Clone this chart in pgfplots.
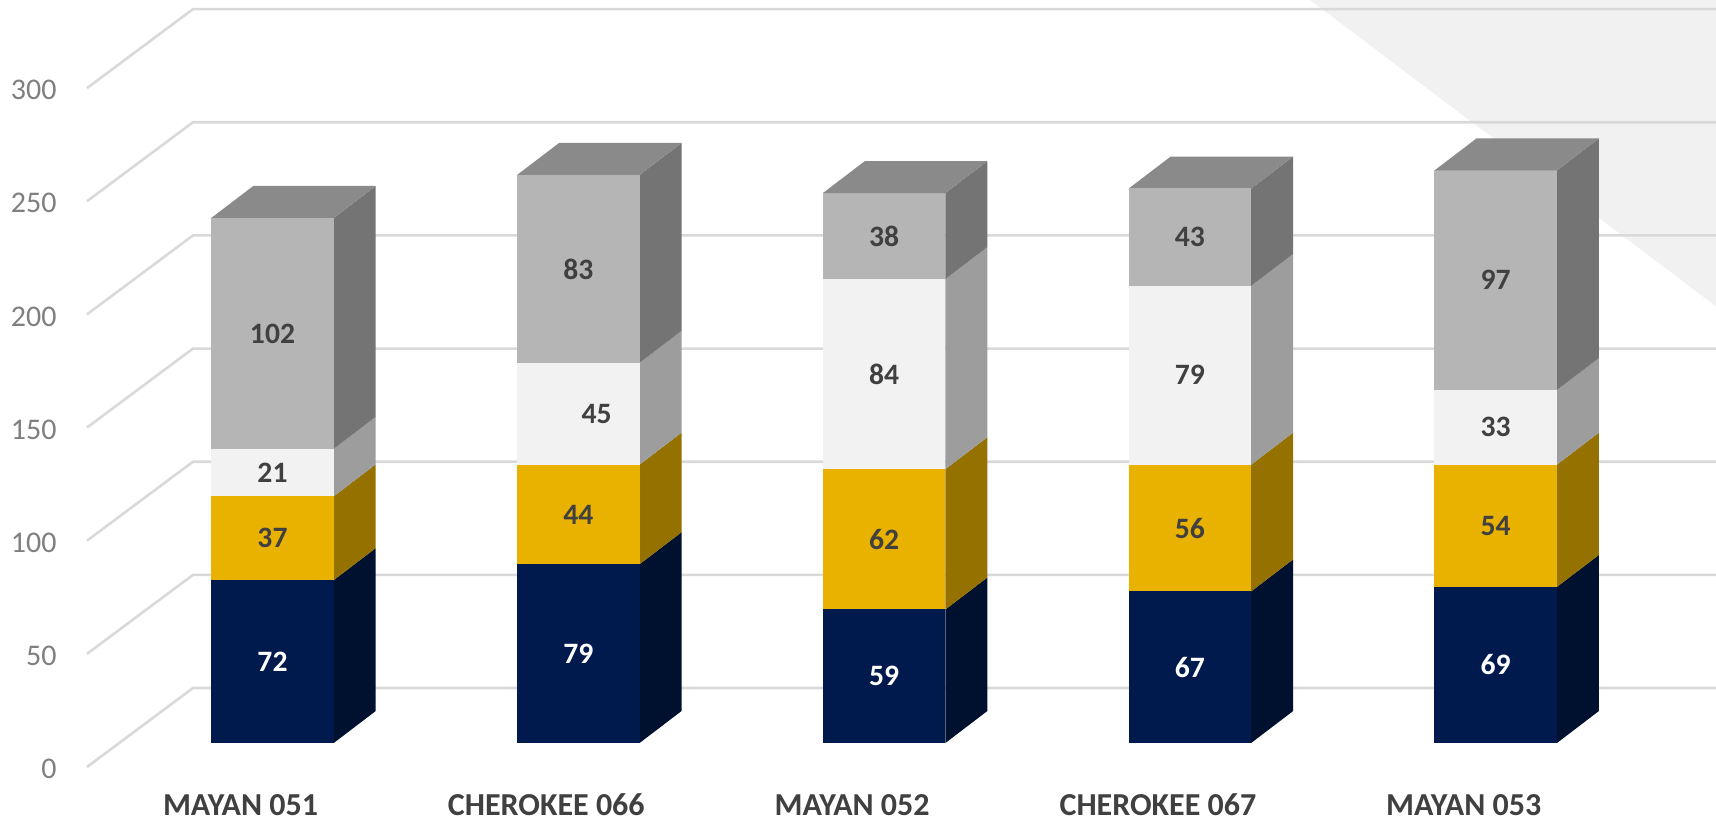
\documentclass[border=0pt]{standalone}
\usepackage{pgfplots}
\usepackage{pgfplotstable}
\pgfplotsset{compat=1.18}
\usepackage{fontspec}
\setmainfont{Carlito}

\definecolor{navyF}{HTML}{001A4E}
\definecolor{navyS}{HTML}{00112F}
\definecolor{goldF}{HTML}{EAB200}
\definecolor{goldS}{HTML}{957100}
\definecolor{whiteF}{HTML}{F2F2F2}
\definecolor{whiteS}{HTML}{9D9D9D}
\definecolor{greyF}{HTML}{B5B5B5}
\definecolor{greyS}{HTML}{747474}
\definecolor{greyT}{HTML}{8A8A8A}
\definecolor{gridc}{HTML}{D9D9D9}
\definecolor{labc}{HTML}{404040}
\definecolor{tickc}{HTML}{7F7F7F}
\definecolor{triC}{HTML}{F1F1F1}

% columns: a = navy, b = gold, c = white, d = grey; cs = x offset of the white label
\pgfplotstableread{
x a b c d cs
0 72 37 21 102 0
1 79 44 45 83 0.06
2 59 62 84 38 0
3 67 56 79 43 0
4 69 54 33 97 0
}\datatable

\tikzset{
  tick lab/.style={anchor=east, inner sep=0pt, xshift=-15pt, yshift=-1pt, text=tickc, font=\fontsize{15}{18}\selectfont},
  dlab/.style={inner sep=0pt, font=\fontsize{14.8}{17}\selectfont\bfseries},
  catlab/.style={inner sep=0pt, text=labc, font=\fontsize{16}{19}\selectfont\bfseries},
}

% bar geometry (axis units)
\def\hw{0.2003}
\def\ddx{0.1373}
\def\ddy{14.14}

\newcommand\barseg[5]{%
  \pgfmathsetmacro\bxl{#1-\hw}%
  \pgfmathsetmacro\bxr{#1+\hw}%
  \pgfmathsetmacro\bxb{#1+\hw+\ddx}%
  \pgfmathsetmacro\blo{#2}%
  \pgfmathsetmacro\bhi{#3}%
  \pgfmathsetmacro\blob{#2+\ddy}%
  \pgfmathsetmacro\bhib{#3+\ddy}%
  \edef\tmp{%
    \noexpand\addplot[fill=#5,draw=none,forget plot] coordinates {(\bxr,\blo) (\bxb,\blob) (\bxb,\bhib) (\bxr,\bhi)};%
    \noexpand\addplot[fill=#4,draw=none,forget plot] coordinates {(\bxl,\blo) (\bxr,\blo) (\bxr,\bhi) (\bxl,\bhi)};%
  }\tmp}

\newcommand\bartop[3]{%
  \pgfmathsetmacro\bxl{#1-\hw}%
  \pgfmathsetmacro\bxr{#1+\hw}%
  \pgfmathsetmacro\bxlb{#1-\hw+\ddx}%
  \pgfmathsetmacro\bxrb{#1+\hw+\ddx}%
  \pgfmathsetmacro\btp{#2}%
  \pgfmathsetmacro\btpb{#2+\ddy}%
  \edef\tmp{%
    \noexpand\addplot[fill=#3,draw=none,forget plot] coordinates {(\bxl,\btp) (\bxr,\btp) (\bxrb,\btpb) (\bxlb,\btpb)};%
  }\tmp}

\newcommand\dlabel[6]{% r lo hi value color xoffset
  \pgfmathsetmacro\dmid{(#2+#3)/2}%
  \pgfmathsetmacro\dx{#1+#6}%
  \edef\tmp{\noexpand\node[dlab,text=#5] at (axis cs:\dx,\dmid) {#4};}\tmp}

\begin{document}
\begin{tikzpicture}
\begin{axis}[
  width=858pt, height=411pt, scale only axis,
  xmin=-0.8911, xmax=4.7204, ymin=-34.91, ymax=328.33,
  axis lines=none, clip=false,
]
% light side wall region (top right)
\addplot[fill=triC, draw=none, forget plot] coordinates {(3.3927,328.33) (4.7204,328.33) (4.7204,193)};
% gridlines: floor diagonal + back wall line
\pgfplotsforeachungrouped \gv in {0,50,100,150,200,250,300}{%
  \pgfmathsetmacro\yf{\gv-10.6}%
  \pgfmathsetmacro\yw{\gv+24.3}%
  \edef\tmp{%
    \noexpand\addplot[gridc, line width=1.3pt, forget plot] coordinates {(-0.6066,\yf) (-0.26,\yw) (4.7204,\yw)};%
    \noexpand\node[tick lab] at (axis cs:-0.6066,\yf) {\gv};%
  }\tmp
}
% bars
\pgfplotsforeachungrouped \r in {0,1,2,3,4}{%
  \pgfplotstablegetelem{\r}{a}\of\datatable \let\va\pgfplotsretval
  \pgfplotstablegetelem{\r}{b}\of\datatable \let\vb\pgfplotsretval
  \pgfplotstablegetelem{\r}{c}\of\datatable \let\vc\pgfplotsretval
  \pgfplotstablegetelem{\r}{d}\of\datatable \let\vd\pgfplotsretval
  \pgfplotstablegetelem{\r}{cs}\of\datatable \let\vcs\pgfplotsretval
  \pgfmathsetmacro\ya{\va}%
  \pgfmathsetmacro\yb{\va+\vb}%
  \pgfmathsetmacro\yc{\yb+\vc}%
  \pgfmathsetmacro\yd{\yc+\vd}%
  \barseg{\r}{0}{\ya}{navyF}{navyS}%
  \barseg{\r}{\ya}{\yb}{goldF}{goldS}%
  \barseg{\r}{\yb}{\yc}{whiteF}{whiteS}%
  \barseg{\r}{\yc}{\yd}{greyF}{greyS}%
  \bartop{\r}{\yd}{greyT}%
  \dlabel{\r}{0}{\ya}{\va}{white}{0}%
  \dlabel{\r}{\ya}{\yb}{\vb}{labc}{0}%
  \dlabel{\r}{\yb}{\yc}{\vc}{labc}{\vcs}%
  \dlabel{\r}{\yc}{\yd}{\vd}{labc}{0}%
}
% category labels (front plane)
\node[catlab] at (axis cs:-0.1046,-27.3) {MAYAN 051};
\node[catlab] at (axis cs:0.8954,-27.3) {CHEROKEE 066};
\node[catlab] at (axis cs:1.8954,-27.3) {MAYAN 052};
\node[catlab] at (axis cs:2.8954,-27.3) {CHEROKEE 067};
\node[catlab] at (axis cs:3.8954,-27.3) {MAYAN 053};
\end{axis}
\pgfresetboundingbox
\path (current axis.south west) rectangle (current axis.north east);
\end{tikzpicture}
\end{document}
